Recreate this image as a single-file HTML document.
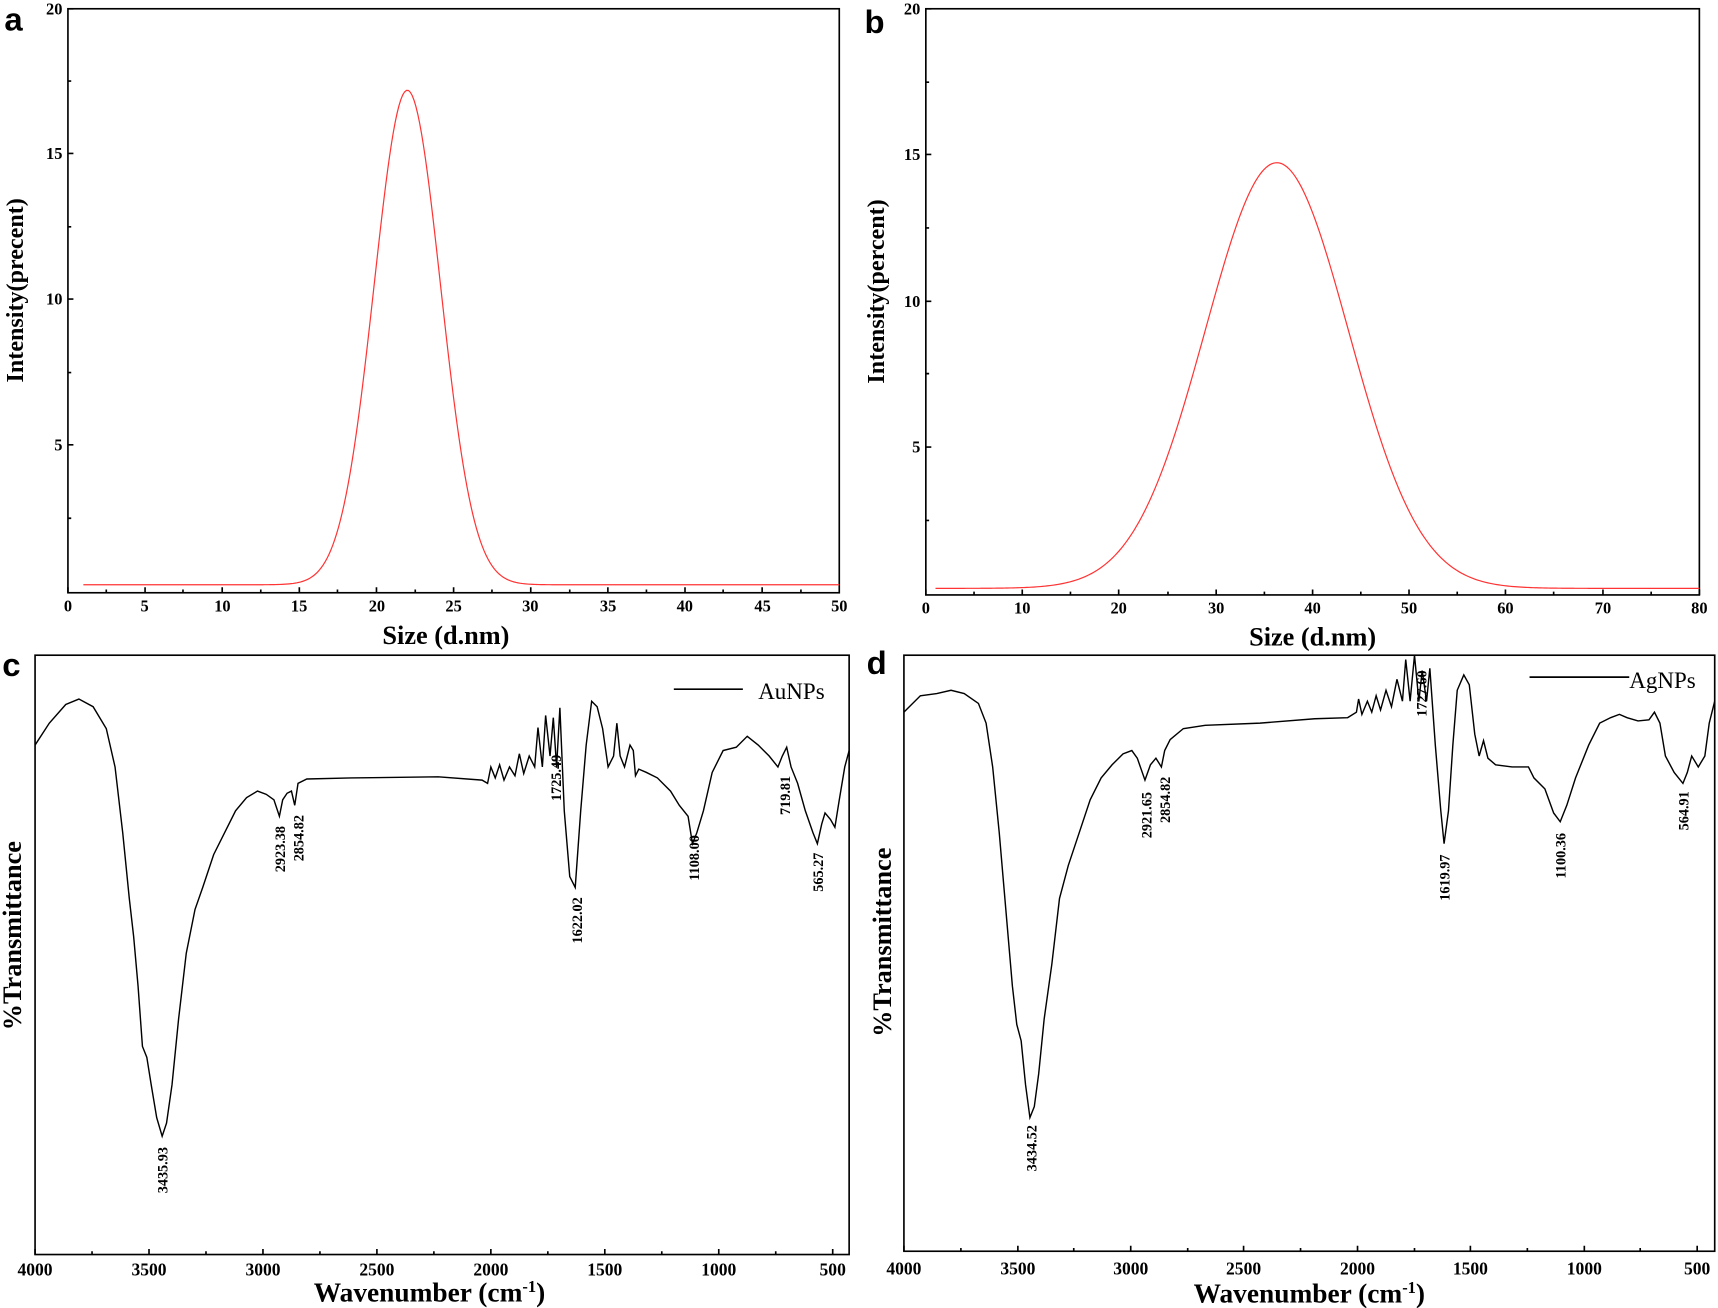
<!DOCTYPE html>
<html><head><meta charset="utf-8"><style>body{margin:0;background:#fff}svg{display:block}</style></head><body>
<svg width="1718" height="1308" viewBox="0 0 1568 1193.8" xmlns="http://www.w3.org/2000/svg" font-family="Liberation Serif, serif" font-weight="bold">
<rect width="1568" height="1194" fill="#fff"/>
<g font-family="Liberation Sans, sans-serif" font-size="30" font-weight="bold">
<text x="4" y="28">a</text><text x="789" y="30">b</text><text x="2" y="617">c</text><text x="791" y="615">d</text></g>
<!-- Panel a -->
<rect x="62" y="8" width="704" height="533" fill="none" stroke="#000" stroke-width="1.5"/>
<g stroke="#000" stroke-width="1.5">
<path d="M62 541v-5M132.4 541v-5M202.8 541v-5M273.2 541v-5M343.6 541v-5M414 541v-5M484.4 541v-5M554.8 541v-5M625.2 541v-5M695.6 541v-5M97 541v-3M167 541v-3M238 541v-3M308 541v-3M379 541v-3M449 541v-3M520 541v-3M590 541v-3M660 541v-3M731 541v-3"/>
<path d="M62 8h5M62 140h5M62 273h5M62 406h5M62 74h3M62 207h3M62 340h3M62 473h3"/></g>
<g font-size="15" text-anchor="middle">
<text x="62" y="558">0</text><text x="132" y="558">5</text><text x="203" y="558">10</text><text x="273" y="558">15</text><text x="344" y="558">20</text><text x="414" y="558">25</text><text x="484" y="558">30</text><text x="555" y="558">35</text><text x="625" y="558">40</text><text x="696" y="558">45</text><text x="766" y="558">50</text></g>
<g font-size="15" text-anchor="end"><text x="57" y="13">20</text><text x="57" y="145">15</text><text x="57" y="278">10</text><text x="57" y="411">5</text></g>
<text x="407" y="588" font-size="24" text-anchor="middle">Size (d.nm)</text>
<text transform="translate(21,265) rotate(-90)" font-size="22" text-anchor="middle">Intensity(precent)</text>
<path id="ca" fill="none" stroke="#f33" stroke-width="1.1" d=""/>
<!-- Panel b -->
<rect x="845" y="8" width="706" height="535" fill="none" stroke="#000" stroke-width="1.5"/>
<g stroke="#000" stroke-width="1.5">
<path d="M845 543v-5M933 543v-5M1021 543v-5M1110 543v-5M1198 543v-5M1286 543v-5M1374 543v-5M1463 543v-5M1551 543v-5M889 543v-3M977 543v-3M1066 543v-3M1154 543v-3M1242 543v-3M1330 543v-3M1418 543v-3M1507 543v-3"/>
<path d="M845 8h5M845 141h5M845 275h5M845 408h5M845 75h3M845 208h3M845 341h3M845 475h3"/></g>
<g font-size="15" text-anchor="middle">
<text x="845" y="560">0</text><text x="933" y="560">10</text><text x="1021" y="560">20</text><text x="1110" y="560">30</text><text x="1198" y="560">40</text><text x="1286" y="560">50</text><text x="1374" y="560">60</text><text x="1463" y="560">70</text><text x="1551" y="560">80</text></g>
<g font-size="15" text-anchor="end"><text x="840" y="13">20</text><text x="840" y="146">15</text><text x="840" y="280">10</text><text x="840" y="413">5</text></g>
<text x="1198" y="589" font-size="24" text-anchor="middle">Size (d.nm)</text>
<text transform="translate(807,266) rotate(-90)" font-size="22" text-anchor="middle">Intensity(percent)</text>
<path id="cb" fill="none" stroke="#f33" stroke-width="1.1" d=""/>
<!-- Panel c -->
<rect x="32" y="598" width="743" height="547" fill="none" stroke="#000" stroke-width="1.5"/>
<g stroke="#000" stroke-width="1.5"><path d="M32 1145v-5M136 1145v-5M240 1145v-5M344 1145v-5M448 1145v-5M552 1145v-5M656 1145v-5M760 1145v-5M84 1145v-3M188 1145v-3M292 1145v-3M396 1145v-3M500 1145v-3M604 1145v-3M708 1145v-3"/></g>
<g font-size="16" text-anchor="middle"><text x="32" y="1164">4000</text><text x="136" y="1164">3500</text><text x="240" y="1164">3000</text><text x="344" y="1164">2500</text><text x="448" y="1164">2000</text><text x="552" y="1164">1500</text><text x="656" y="1164">1000</text><text x="760" y="1164">500</text></g>
<text x="392" y="1188" font-size="25" text-anchor="middle">Wavenumber (cm<tspan font-size="15" dy="-9">-1</tspan><tspan dy="9">)</tspan></text>
<text transform="translate(19,854) rotate(-90)" font-size="24" text-anchor="middle">%Transmittance</text>
<line x1="615" y1="629" x2="678" y2="629" stroke="#000" stroke-width="1.5"/>
<text x="692" y="638" font-size="21" font-weight="normal">AuNPs</text>
<polyline fill="none" stroke="#000" stroke-width="1.3" points="32,680 45,660 60,643 72,638 85,645 97,665 105,700 112,760 118,820 122,855 126,900 130,955 134,965 138,990 143,1020 148,1037 152,1025 157,990 163,930 170,870 178,830 185,810 195,780 205,760 215,740 225,728 235,722 243,725 250,730 255,745 258,730 262,724 266,722 269,735 272,715 280,711 320,710 400,709 440,712 445,715 448,700 452,710 456,698 460,712 465,700 470,708 474,688 478,706 483,690 488,700 491,664 495,700 498,653 502,690 505,655 508,700 511,646 515,740 520,800 525,810 530,740 535,680 540,640 545,645 550,665 555,700 560,690 563,660 566,690 570,700 575,680 578,685 580,708 583,702 590,705 600,710 612,722 620,735 628,745 632,770 636,760 642,740 650,705 660,685 672,682 682,672 692,680 702,690 710,700 714,690 718,682 722,700 728,715 735,740 742,760 746,770 750,752 753,742 758,748 762,755 766,730 771,700 775,685"/>
<g font-size="13">
<text transform="translate(153,1068) rotate(-90)" text-anchor="middle">3435.93</text>
<text transform="translate(260,775) rotate(-90)" text-anchor="middle">2923.38</text>
<text transform="translate(277,765) rotate(-90)" text-anchor="middle">2854.82</text>
<text transform="translate(512,710) rotate(-90)" text-anchor="middle">1725.49</text>
<text transform="translate(531,840) rotate(-90)" text-anchor="middle">1622.02</text>
<text transform="translate(638,783) rotate(-90)" text-anchor="middle">1108.00</text>
<text transform="translate(721,726) rotate(-90)" text-anchor="middle">719.81</text>
<text transform="translate(751,796) rotate(-90)" text-anchor="middle">565.27</text></g>
<!-- Panel d -->
<rect x="825" y="598" width="740" height="544" fill="none" stroke="#000" stroke-width="1.5"/>
<g stroke="#000" stroke-width="1.5"><path d="M825 1142v-5M929 1142v-5M1032 1142v-5M1135 1142v-5M1239 1142v-5M1342 1142v-5M1446 1142v-5M1549 1142v-5M877 1142v-3M980 1142v-3M1084 1142v-3M1187 1142v-3M1291 1142v-3M1394 1142v-3M1497 1142v-3"/></g>
<g font-size="16" text-anchor="middle"><text x="825" y="1163">4000</text><text x="929" y="1163">3500</text><text x="1032" y="1163">3000</text><text x="1135" y="1163">2500</text><text x="1239" y="1163">2000</text><text x="1342" y="1163">1500</text><text x="1446" y="1163">1000</text><text x="1549" y="1163">500</text></g>
<text x="1195" y="1189" font-size="25" text-anchor="middle">Wavenumber (cm<tspan font-size="15" dy="-9">-1</tspan><tspan dy="9">)</tspan></text>
<text transform="translate(813,860) rotate(-90)" font-size="24" text-anchor="middle">%Transmittance</text>
<line x1="1396" y1="618" x2="1487" y2="618" stroke="#000" stroke-width="1.5"/>
<text x="1487" y="628" font-size="21" font-weight="normal">AgNPs</text>
<polyline fill="none" stroke="#000" stroke-width="1.3" points="825,650 840,635 855,633 868,630 880,633 893,642 900,660 906,700 912,760 918,830 924,900 928,935 932,950 936,990 940,1020 944,1010 948,980 953,930 960,880 967,820 975,790 985,760 995,730 1005,710 1015,698 1025,688 1033,685 1038,692 1045,712 1050,698 1055,692 1060,700 1063,685 1068,675 1080,665 1100,662 1150,660 1200,656 1230,655 1238,650 1240,638 1243,652 1248,640 1252,650 1256,635 1260,648 1265,630 1270,645 1275,620 1280,640 1283,602 1287,640 1291,598 1295,640 1298,612 1302,640 1305,610 1310,680 1315,740 1318,770 1322,740 1326,680 1330,630 1336,616 1341,625 1346,670 1350,690 1354,676 1358,692 1365,698 1380,700 1395,700 1400,710 1410,720 1418,742 1424,750 1430,735 1438,710 1450,680 1460,660 1470,655 1478,652 1485,655 1495,658 1505,657 1510,650 1515,660 1520,690 1528,705 1536,715 1540,705 1544,690 1550,700 1556,690 1560,660 1565,640"/>
<g font-size="13">
<text transform="translate(946,1048) rotate(-90)" text-anchor="middle">3434.52</text>
<text transform="translate(1051,744) rotate(-90)" text-anchor="middle">2921.65</text>
<text transform="translate(1068,730) rotate(-90)" text-anchor="middle">2854.82</text>
<text transform="translate(1302,633) rotate(-90)" text-anchor="middle">1727.60</text>
<text transform="translate(1323,801) rotate(-90)" text-anchor="middle">1619.97</text>
<text transform="translate(1429,781) rotate(-90)" text-anchor="middle">1100.36</text>
<text transform="translate(1541,740) rotate(-90)" text-anchor="middle">564.91</text></g>
<script>
(function(){
function g(id,x0,x1,px0,pxw,xmax,y0px,ypx,mu,s,h,b){var d="";for(var i=0;i<=400;i++){var x=x0+(x1-x0)*i/400;var v=b+h*Math.exp(-(x-mu)*(x-mu)/(2*s*s));var X=px0+pxw*x/xmax,Y=y0px-ypx*v;d+=(i?"L":"M")+X.toFixed(2)+" "+Y.toFixed(2);}document.getElementById(id).setAttribute("d",d);}
g("ca",1,50,62,704,50,539,26.55,22,2.15,17,0.2);
g("cb",1,80,845,706,80,541,26.7,36.3,7.4,14.55,0.15);
})();
</script>
</svg>
</body></html>
